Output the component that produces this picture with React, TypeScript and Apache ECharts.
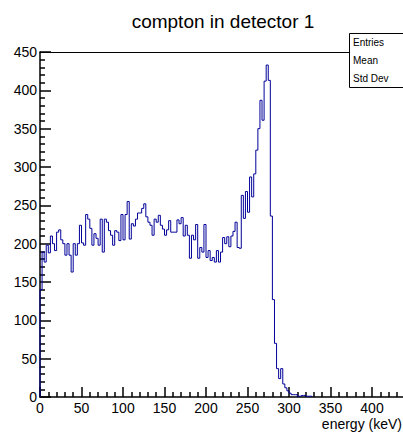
import React, { useEffect, useRef } from "react";
import * as echarts from "echarts";

const chartTitle = "compton in detector 1";
const xAxisTitle = "energy (keV)";
const statsLabels = ["Entries", "Mean", "Std Dev"];

const binLow = 0;
const binWidth = 2.5;
const xMin = 0;
const xMax = 500;
const yMin = 0;
const yMax = 450;
const tickStep = 50;
const lastShownXLabel = 400;

const counts = [
  140, 189, 176, 198, 188, 210, 200, 191, 215, 218,
  205, 200, 185, 200, 185, 163, 200, 185, 200, 224,
  201, 198, 238, 232, 220, 198, 213, 207, 198, 232,
  189, 232, 228, 217, 211, 198, 217, 215, 204, 238,
  205, 238, 255, 206, 226, 223, 232, 240, 240, 246,
  252, 235, 228, 224, 211, 232, 228, 237, 224, 219,
  211, 218, 230, 215, 215, 215, 231, 226, 234, 210,
  224, 211, 181, 211, 205, 225, 181, 195, 189, 225,
  182, 191, 178, 182, 176, 191, 176, 189, 208, 200,
  209, 196, 210, 216, 228, 195, 194, 263, 233, 268,
  241, 287, 261, 291, 322, 350, 387, 361, 412, 433,
  413, 236, 127, 70, 37, 24, 37, 17, 12, 8,
  5, 3, 3, 3, 1, 1, 2, 2, 1, 1,
  1,
];

const FONT = "'Liberation Sans', Arial, Helvetica, sans-serif";

function buildOption() {
  const data: number[][] = [[binLow, 0]];
  counts.forEach((c, i) => data.push([binLow + i * binWidth, c]));
  data.push([binLow + counts.length * binWidth, 0]);

  const axisLine = { show: true, onZero: false, lineStyle: { color: "#000", width: 1.5 } };
  const tickStyle = { color: "#000", width: 1.5 };

  return {
    animation: false,
    grid: { left: 40, top: 52, right: 15, bottom: 37 },
    xAxis: [
      {
        type: "value",
        position: "bottom",
        min: xMin,
        max: xMax,
        interval: tickStep,
        axisLine,
        axisTick: { show: true, inside: true, length: 10, lineStyle: tickStyle },
        minorTick: { show: true, splitNumber: 5, length: 5, lineStyle: tickStyle },
        splitLine: { show: false },
        axisLabel: {
          color: "#000",
          fontSize: 14,
          fontFamily: FONT,
          margin: 4,
          formatter: (v: number) => (v <= lastShownXLabel ? String(v) : ""),
        },
      },
      {
        type: "value",
        position: "top",
        min: xMin,
        max: xMax,
        axisLine: { show: true, onZero: false, lineStyle: { color: "#000", width: 1 } },
        axisTick: { show: false },
        axisLabel: { show: false },
        splitLine: { show: false },
      },
    ],
    yAxis: {
      type: "value",
      position: "left",
      min: yMin,
      max: yMax,
      interval: tickStep,
      axisLine,
      axisTick: { show: true, inside: true, length: 11, lineStyle: tickStyle },
      minorTick: { show: true, splitNumber: 5, length: 5, lineStyle: tickStyle },
      splitLine: { show: false },
      axisLabel: { color: "#000", fontSize: 14, fontFamily: FONT, margin: 3 },
    },
    series: [
      {
        type: "line",
        step: "end",
        symbol: "none",
        data,
        lineStyle: { color: "#000099", width: 1 },
      },
    ],
    graphic: [
      {
        type: "text",
        x: 223,
        y: 21,
        style: {
          text: chartTitle,
          fill: "#000",
          fontSize: 19,
          fontFamily: FONT,
          align: "center",
          verticalAlign: "middle",
          textAlign: "center",
          textVerticalAlign: "middle",
        },
      },
      {
        type: "text",
        x: 402,
        y: 424,
        style: {
          text: xAxisTitle,
          fill: "#000",
          fontSize: 14,
          fontFamily: FONT,
          align: "right",
          verticalAlign: "middle",
          textAlign: "right",
          textVerticalAlign: "middle",
        },
      },
      {
        type: "rect",
        shape: { x: 349.5, y: 33.5, width: 110, height: 54 },
        style: { fill: "#fff", stroke: "#000", lineWidth: 1 },
        z: 100,
      },
      ...statsLabels.map((t, i) => ({
        type: "text",
        x: 353,
        y: 42 + i * 18,
        z: 101,
        style: {
          text: t,
          fill: "#000",
          fontSize: 10,
          fontFamily: FONT,
          align: "left",
          verticalAlign: "middle",
          textAlign: "left",
          textVerticalAlign: "middle",
        },
      })),
    ],
  };
}

export default function App() {
  const ref = useRef<HTMLDivElement>(null);
  useEffect(() => {
    if (!ref.current) return;
    const chart = echarts.init(ref.current, null, { renderer: "svg" });
    chart.setOption(buildOption() as any);
    return () => chart.dispose();
  }, []);
  return (
    <div
      style={{
        position: "fixed",
        left: 0,
        top: 0,
        width: 403,
        height: 434,
        overflow: "hidden",
        background: "#fff",
      }}
    >
      <div ref={ref} style={{ width: 470, height: 434 }} />
    </div>
  );
}
